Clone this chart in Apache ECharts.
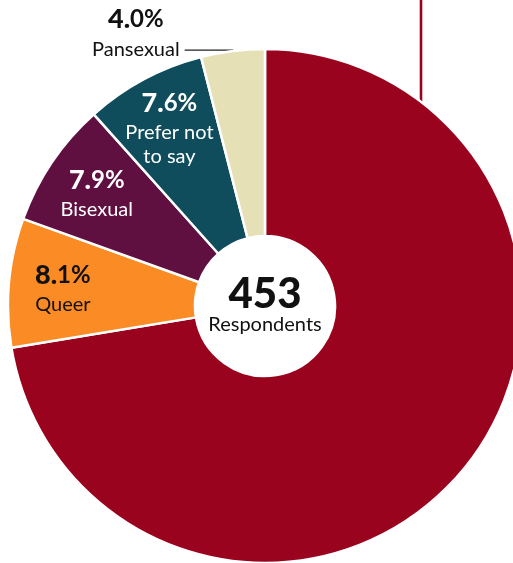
<!DOCTYPE html>
<html>
<head>
<meta charset="utf-8">
<script src="https://cdn.jsdelivr.net/npm/echarts@6/dist/echarts.min.js"></script>
<style>
  html, body { margin: 0; padding: 0; background: #fff; }
  #chart { width: 513px; height: 563px; }
</style>
</head>
<body>
<div id="chart"></div>
<script>
// Sexual orientation of respondents (share of 453)
const categories = ['Straight', 'Queer', 'Bisexual', 'Prefer not to say', 'Pansexual'];
const labelLines = [['Straight'], ['Queer'], ['Bisexual'], ['Prefer not', 'to say'], ['Pansexual']];
const shares = [72.4, 8.1, 7.9, 7.6, 4.0];
const respondents = 453;

const palette = ['#9A031E', '#FB8B24', '#5F0F40', '#0F4C5C', '#E6E0B7'];
const labelInk = ['#ffffff', '#111111', '#ffffff', '#ffffff', '#111111'];
const FONT = 'Lato, "Noto Sans", sans-serif';

const CX = 265, CY = 306, R = 257, R0 = 70;

function pctText(v) {
  const parts = v.toFixed(1).split('.');
  return '{pi|' + parts[0] + '.}{pd|' + parts[1] + '%}';
}
function nameText(i) {
  return labelLines[i].map(function (s) { return '{n|' + s + '}'; }).join('\n');
}
function richFor(color, pctLine, nameLine) {
  return {
    pi: { fontFamily: FONT, fontWeight: 900, fontSize: 27, color: color, lineHeight: pctLine, align: 'center' },
    pd: { fontFamily: FONT, fontWeight: 700, fontSize: 24, color: color, lineHeight: pctLine, align: 'center' },
    n: { fontFamily: FONT, fontWeight: 400, fontSize: 20, color: color, lineHeight: nameLine, align: 'center' },
    s: { fontSize: 1, lineHeight: pctLine }
  };
}

const chart = echarts.init(document.getElementById('chart'), null, { renderer: 'canvas' });

// slices, plus the outside labels (Pansexual and the leader running off the top)
const sliceData = shares.map(function (v, i) {
  const d = { name: categories[i], value: v, itemStyle: { color: palette[i] } };
  if (i === 4) {
    d.label = {
      show: true,
      position: 'outside',
      distanceToLabelLine: 5,
      formatter: function () { return pctText(v) + '\n' + nameText(i) + '\n{s|}'; },
      rich: richFor('#111', 40, 22)
    };
    d.labelLine = { show: true, length: 1, length2: 48, smooth: false,
      lineStyle: { color: '#222', width: 1.3 } };
  } else if (i === 0) {
    d.label = { show: true, position: 'outside', formatter: function () { return pctText(v) + '\n' + nameText(i); },
      rich: richFor('#111', 34, 24) };
    d.labelLine = { show: true, lineStyle: { color: palette[0], width: 2.6 } };
  }
  return d;
});

// inner labels sit on a transparent ring so they land near the outer part of each slice
const innerLabelData = shares.map(function (v, i) {
  const show = i >= 1 && i <= 3;
  return {
    name: categories[i], value: v,
    itemStyle: { color: 'rgba(0,0,0,0)', borderWidth: 0 },
    label: show ? {
      show: true, position: 'inside',
      formatter: function () { return pctText(v) + '\n' + nameText(i); },
      rich: richFor(labelInk[i], 35, 24)
    } : { show: false }
  };
});

chart.setOption({
  animation: false,
  backgroundColor: '#ffffff',
  series: [
    {
      type: 'pie',
      center: [CX, CY],
      radius: [R0, R],
      startAngle: 90,
      clockwise: true,
      avoidLabelOverlap: false,
      silent: true,
      itemStyle: { borderColor: '#ffffff', borderWidth: 2.5 },
      label: { show: false },
      labelLine: { show: false },
      labelLayout: function (p) {
        if (p.dataIndex === 0) {
          const x = 421;
          const y = CY - Math.sqrt(R * R - (x - CX) * (x - CX));
          return { x: x, y: -80, labelLinePoints: [[x, y], [x, -40], [x, -40]] };
        }
      },
      data: sliceData
    },
    {
      type: 'pie',
      center: [CX, CY],
      radius: [143, R],
      startAngle: 90,
      clockwise: true,
      avoidLabelOverlap: false,
      silent: true,
      labelLine: { show: false },
      data: innerLabelData
    }
  ],
  graphic: [
    {
      type: 'text', x: CX, y: CY - 12,
      style: { text: String(respondents), font: '900 42px ' + FONT, fill: '#111',
        align: 'center', verticalAlign: 'middle', textAlign: 'center', textVerticalAlign: 'middle' }
    },
    {
      type: 'text', x: CX, y: CY + 19,
      style: { text: 'Respondents', font: '400 20px ' + FONT, fill: '#111',
        align: 'center', verticalAlign: 'middle', textAlign: 'center', textVerticalAlign: 'middle' }
    }
  ]
});
</script>
</body>
</html>
